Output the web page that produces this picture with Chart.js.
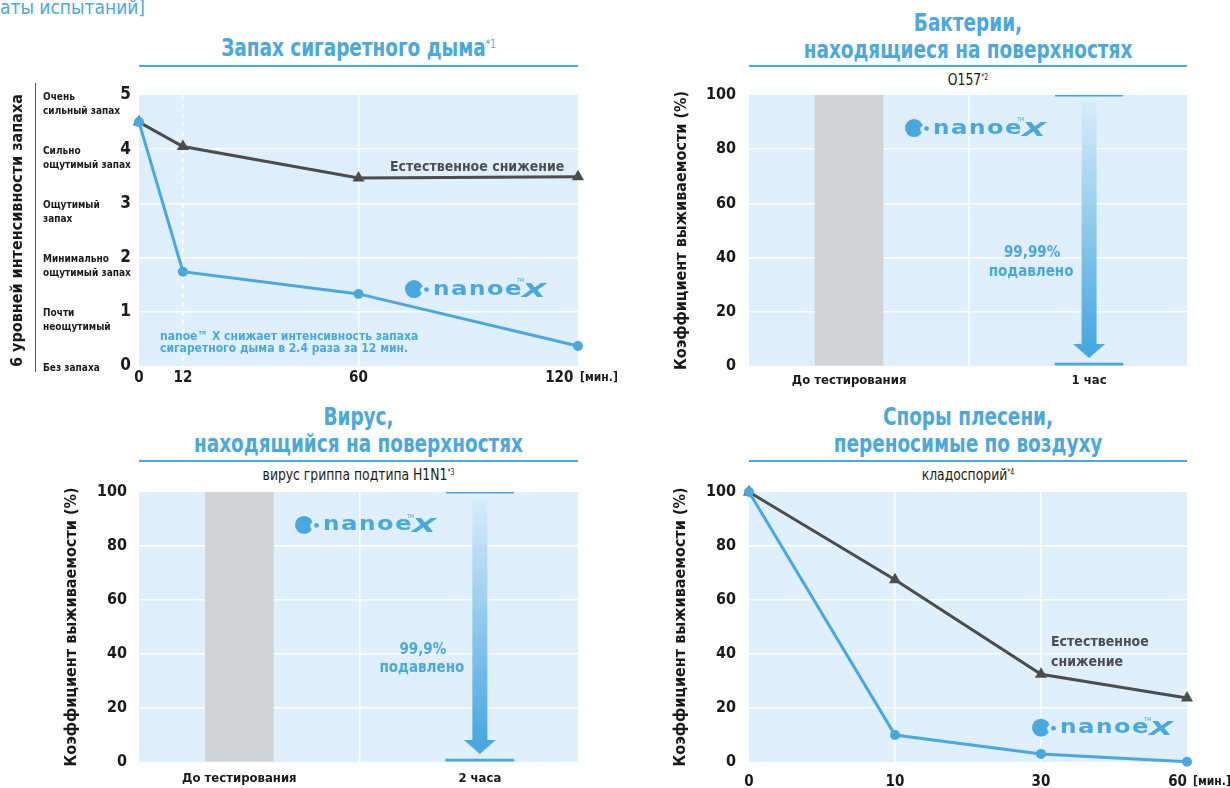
<!DOCTYPE html>
<html><head><meta charset="utf-8">
<script src="https://cdn.jsdelivr.net/npm/chart.js@4.4.1/dist/chart.umd.min.js"></script>
<style>
html,body{margin:0;padding:0;width:1230px;height:788px;overflow:hidden;background:#fff;}
body{position:relative;font-family:'Liberation Sans Narrow','DejaVu Sans Condensed','DejaVu Sans',sans-serif;font-stretch:condensed;}
canvas{position:absolute;}
.t{position:absolute;text-align:center;color:#4aa8e0;font-weight:bold;font-size:25px;line-height:27px;white-space:nowrap;transform:scaleX(0.82);transform-origin:50% 0;}
.t sup{font-size:12px;vertical-align:top;position:relative;top:-3px;font-weight:normal;}
.u{position:absolute;height:2px;background:#4aa8e0;}
.s{position:absolute;text-align:center;color:#1a1a1a;font-size:16px;line-height:16px;white-space:nowrap;transform:scaleX(0.86);transform-origin:50% 0;}
.s sup{font-size:8px;vertical-align:top;position:relative;top:-2px;}
</style></head><body>
<div style="position:absolute;left:0;top:-4px;color:#4aa8e0;font-size:19px;line-height:22px;white-space:nowrap;">аты испытаний]</div>

<div class="t" style="left:139px;top:34px;width:439px;">Запах сигаретного дыма<sup>*1</sup></div>
<div class="u" style="left:139px;top:65px;width:439px;"></div>

<div class="t" style="left:749px;top:9px;width:438px;">Бактерии,<br>находящиеся на поверхностях</div>
<div class="u" style="left:749px;top:65px;width:438px;"></div>
<div class="s" style="left:749px;top:72px;width:438px;">O157<sup>*2</sup></div>

<div class="t" style="left:139px;top:403px;width:439px;">Вирус,<br>находящийся на поверхностях</div>
<div class="u" style="left:139px;top:460px;width:439px;"></div>
<div class="s" style="left:139px;top:467px;width:439px;">вирус гриппа подтипа H1N1<sup>*3</sup></div>

<div class="t" style="left:749px;top:403px;width:438px;">Споры плесени,<br>переносимые по воздуху</div>
<div class="u" style="left:749px;top:460px;width:438px;"></div>
<div class="s" style="left:749px;top:467px;width:438px;">кладоспорий<sup>*4</sup></div>

<canvas id="c1" width="640" height="330" style="left:0;top:70px;"></canvas>
<canvas id="c2" width="590" height="330" style="left:640px;top:70px;"></canvas>
<canvas id="c3" width="640" height="330" style="left:0;top:466px;"></canvas>
<canvas id="c4" width="590" height="330" style="left:640px;top:466px;"></canvas>

<script>
// ---------- data ----------
const smokeMinutes = [0, 12, 60, 120];
const smokeNanoe = [4.5, 1.74, 1.33, 0.37];
const smokeNatural = [4.5, 4.05, 3.47, 3.49];
const smokeLevels = [['Без запаха'], ['Почти', 'неощутимый'], ['Минимально', 'ощутимый запах'], ['Ощутимый', 'запах'], ['Сильно', 'ощутимый запах'], ['Очень', 'сильный запах']];
const bacteriaCategories = ['До тестирования', '1 час'];
const bacteriaSurvival = [100, 0.01];
const virusCategories = ['До тестирования', '2 часа'];
const virusSurvival = [100, 0.1];
const mouldMinutes = ['0', '10', '30', '60'];
const mouldNanoe = [100, 10, 3, 0.1];
const mouldNatural = [100, 67.5, 32.5, 23.7];

// ---------- style ----------
const FONT = "'Liberation Sans Narrow','DejaVu Sans Condensed','DejaVu Sans',sans-serif";
const BG = '#dfeffb', BLUE = '#4aa8e0', GRAY = '#4d4d4d', BAR = '#d1d3d4', INK = '#1a1a1a';

Chart.register({
  id: 'plotBg',
  beforeDraw(c) {
    const a = c.chartArea, ctx = c.ctx;
    ctx.save(); ctx.fillStyle = BG;
    ctx.fillRect(a.left, a.top, a.right - a.left, a.bottom - a.top);
    ctx.restore();
  }
});

function drawLogo(ctx, x, yc) {
  ctx.save();
  ctx.fillStyle = BLUE;
  ctx.beginPath(); ctx.arc(x + 9, yc, 9, 0, Math.PI * 2); ctx.fill();
  ctx.fillStyle = BG;
  ctx.beginPath(); ctx.arc(x + 18.6, yc + 1, 3.4, 0, Math.PI * 2); ctx.fill();
  ctx.fillStyle = BLUE;
  ctx.beginPath(); ctx.arc(x + 21.5, yc + 0.5, 2.4, 0, Math.PI * 2); ctx.fill();
  ctx.textBaseline = 'alphabetic'; ctx.textAlign = 'left';
  ctx.font = "bold 20px 'DejaVu Sans'";
  'nanoe'.split('').forEach((ch, k) => {
    const w = ctx.measureText(ch).width;
    ctx.save(); ctx.translate(x + 28 + k * 18, yc + 5.5); ctx.scale(16.5 / w, 1); ctx.fillText(ch, 0, 0); ctx.restore();
  });
  ctx.font = "italic bold 20px 'DejaVu Sans'";
  const wx = ctx.measureText('X').width;
  ctx.save(); ctx.translate(x + 117, yc + 7.5); ctx.scale(24 / wx, 1); ctx.fillText('X', 0, 0); ctx.restore();
  ctx.font = "5px 'DejaVu Sans'";
  ctx.fillText('TM', x + 112, yc - 7);
  ctx.restore();
}

function txt(ctx, s, x, y, font, color, align) {
  ctx.save(); ctx.font = font; ctx.fillStyle = color; ctx.textAlign = align || 'left'; ctx.textBaseline = 'middle';
  ctx.fillText(s, x, y); ctx.restore();
}

const tickFont = (size) => ({ family: FONT, size: size, weight: 'bold' });
const common = { responsive: false, animation: false, events: [], plugins: { legend: { display: false }, tooltip: { enabled: false } } };

// ---------- chart 1: smoke odour ----------
new Chart(document.getElementById('c1'), {
  type: 'line',
  data: {
    datasets: [
      { label: 'nanoe X', data: smokeMinutes.map((m, i) => ({ x: m, y: smokeNanoe[i] })), borderColor: BLUE, backgroundColor: BLUE, borderWidth: 3, pointRadius: 5, pointStyle: 'circle', pointBorderWidth: 0, clip: false },
      { label: 'Естественное снижение', data: smokeMinutes.map((m, i) => ({ x: m, y: smokeNatural[i] })), borderColor: GRAY, backgroundColor: GRAY, borderWidth: 3, pointRadius: 7, pointStyle: 'triangle', pointBorderWidth: 0, clip: false }
    ]
  },
  options: Object.assign({}, common, {
    layout: { padding: { left: 0, top: 25, right: 62, bottom: 0 } },
    scales: {
      x: {
        type: 'linear', min: 0, max: 120, offset: false,
        afterBuildTicks(s) { s.ticks = smokeMinutes.map(v => ({ value: v })); },
        afterFit(s) { s.height = 34; },
        grid: { drawTicks: false, offset: false, lineWidth: 1.5, color: (c) => (c.tick && (c.tick.value === 12 || c.tick.value === 60)) ? '#ffffff' : 'rgba(0,0,0,0)' },
        border: { display: false, dash: (c) => (c.tick && c.tick.value === 12) ? [5, 4] : [] },
        ticks: { padding: 3, color: INK, font: tickFont(15), autoSkip: false, maxRotation: 0,
          callback: (v, i, t) => i === t.length - 1 ? String(v) + '\u2007\u2007\u2007\u2007' : String(v) }
      },
      y: {
        min: 0, max: 5,
        afterFit(s) { s.width = 139; },
        grid: { drawTicks: false, lineWidth: 1.5, color: (c) => (c.tick && c.tick.value > 0 && c.tick.value < 5) ? '#ffffff' : 'rgba(0,0,0,0)' },
        border: { display: false },
        ticks: { stepSize: 1, padding: 8, color: INK, font: tickFont(17) },
        title: { display: true, text: '6 уровней интенсивности запаха', color: INK, font: tickFont(16), padding: { top: 8.4, bottom: 0 } }
      }
    }
  }),
  plugins: [{
    id: 'smokeAnno',
    beforeDatasetsDraw(c) {
      const a = c.chartArea, y = c.scales.y;
      drawLogo(c.ctx, a.left + 266, y.getPixelForValue(1.42));
    },
    afterDraw(c) {
      const ctx = c.ctx, a = c.chartArea, y = c.scales.y;
      smokeLevels.forEach((lines, v) => {
        const py = y.getPixelForValue(v);
        lines.forEach((ln, k) => txt(ctx, ln, 43, py + 2 + k * 14, 'bold 10px ' + FONT, INK));
      });
      ctx.save(); ctx.strokeStyle = '#555'; ctx.lineWidth = 1;
      ctx.beginPath(); ctx.moveTo(35.5, 13); ctx.lineTo(35.5, 302); ctx.stroke(); ctx.restore();
      txt(ctx, 'Естественное снижение', a.left + 251, y.getPixelForValue(3.67), 'bold 14px ' + FONT, GRAY);
      txt(ctx, 'nanoe™ X снижает интенсивность запаха', a.left + 21, y.getPixelForValue(0.535), 'bold 12px ' + FONT, BLUE);
      txt(ctx, 'сигаретного дыма в 2.4 раза за 12 мин.', a.left + 21, y.getPixelForValue(0.31), 'bold 12px ' + FONT, BLUE);
      txt(ctx, '[мин.]', a.right + 2, a.bottom + 12, 'bold 12px ' + FONT, INK);
    }
  }]
});

// ---------- charts 2 & 3: surfaces ----------
function surfaceChart(id, cats, vals, pct, titlePad, tickPad) {
  new Chart(document.getElementById(id), {
    type: 'bar',
    data: { datasets: [{ data: cats.map((c, i) => ({ x: i, y: vals[i] })), backgroundColor: [BAR, BLUE], barThickness: 68, minBarLength: 3, borderWidth: 0, grouped: false }] },
    options: Object.assign({}, common, {
      layout: { padding: { left: 0, top: id === 'c2' ? 25 : 26, right: id === 'c2' ? 43 : 62, bottom: 0 } },
      scales: {
        x: {
          type: 'linear', min: -0.417, max: 1.408, offset: false,
          afterBuildTicks(s) { s.ticks = [0, 0.5, 1].map(v => ({ value: v })); },
          afterFit(s) { s.height = 34; },
          grid: { drawTicks: false, offset: false, lineWidth: 1.5, color: (c) => (c.tick && c.tick.value === 0.5) ? '#ffffff' : 'rgba(0,0,0,0)' },
          border: { display: false },
          ticks: { padding: tickPad, color: INK, font: tickFont(13), autoSkip: false, maxRotation: 0,
            callback: (v) => v === 0 ? cats[0] : (v === 1 ? cats[1] : '') }
        },
        y: {
          min: 0, max: 100,
          afterFit(s) { s.width = id === 'c2' ? 109 : 139; },
          grid: { drawTicks: false, lineWidth: 1.5, color: (c) => (c.tick && c.tick.value > 0 && c.tick.value < 100) ? '#ffffff' : 'rgba(0,0,0,0)' },
          border: { display: false },
          ticks: { stepSize: 20, padding: id === 'c2' ? 13 : 12, color: INK, font: tickFont(16) },
          title: { display: true, text: 'Коэффициент выживаемости (%)', color: INK, font: tickFont(16), padding: { top: titlePad, bottom: 0 } }
        }
      }
    }),
    plugins: [{
      id: 'arrow',
      beforeDatasetsDraw(c) {
        drawLogo(c.ctx, c.chartArea.left + 156, c.scales.y.getPixelForValue(87.8));
      },
      afterDatasetsDraw(c) {
        const ctx = c.ctx, x = c.scales.x, y = c.scales.y;
        const xc = x.getPixelForValue(1), yTop = y.getPixelForValue(vals[0]), yBot = y.getPixelForValue(0);
        ctx.save();
        ctx.fillStyle = BLUE; ctx.fillRect(xc - 34, yTop, 68, 1.5);
        const s0 = yTop + 7, s1 = yBot - 22;
        const g = ctx.createLinearGradient(0, s0, 0, s1);
        g.addColorStop(0, '#d8ecfa'); g.addColorStop(1, BLUE);
        ctx.fillStyle = g; ctx.fillRect(xc - 7.5, s0, 15, s1 - s0);
        ctx.fillStyle = BLUE; ctx.beginPath();
        ctx.moveTo(xc - 16, s1); ctx.lineTo(xc + 16, s1); ctx.lineTo(xc, yBot - 8); ctx.closePath(); ctx.fill();
        ctx.restore();
        txt(ctx, pct, xc - 57, y.getPixelForValue(41.6), 'bold 15px ' + FONT, BLUE, 'center');
        txt(ctx, 'подавлено', xc - 58, y.getPixelForValue(34.8), 'bold 15px ' + FONT, BLUE, 'center');
      }
    }]
  });
}
surfaceChart('c2', bacteriaCategories, bacteriaSurvival, '99,99%', 32.4, 7);
surfaceChart('c3', virusCategories, virusSurvival, '99,9%', 62.4, 9);

// ---------- chart 4: mould spores ----------
new Chart(document.getElementById('c4'), {
  type: 'line',
  data: {
    labels: mouldMinutes,
    datasets: [
      { label: 'nanoe X', data: mouldNanoe, borderColor: BLUE, backgroundColor: BLUE, borderWidth: 3, pointRadius: 5, pointStyle: 'circle', pointBorderWidth: 0, clip: false },
      { label: 'Естественное снижение', data: mouldNatural, borderColor: GRAY, backgroundColor: GRAY, borderWidth: 3, pointRadius: 7, pointStyle: 'triangle', pointBorderWidth: 0, clip: false }
    ]
  },
  options: Object.assign({}, common, {
    layout: { padding: { left: 0, top: 26, right: 43, bottom: 0 } },
    scales: {
      x: {
        type: 'category', offset: false,
        afterFit(s) { s.height = 34; },
        grid: { drawTicks: false, offset: false, lineWidth: 1.5, color: (c) => (c.index === 1 || c.index === 2) ? '#ffffff' : 'rgba(0,0,0,0)' },
        border: { display: false },
        ticks: { padding: 11, color: INK, font: tickFont(15), autoSkip: false, maxRotation: 0,
          callback: (v, i) => i === mouldMinutes.length - 1 ? mouldMinutes[i] + '\u2007\u2007' : mouldMinutes[i] }
      },
      y: {
        min: 0, max: 100,
        afterFit(s) { s.width = 109; },
        grid: { drawTicks: false, lineWidth: 1.5, color: (c) => (c.tick && c.tick.value > 0 && c.tick.value < 100) ? '#ffffff' : 'rgba(0,0,0,0)' },
        border: { display: false },
        ticks: { stepSize: 20, padding: 13, color: INK, font: tickFont(16) },
        title: { display: true, text: 'Коэффициент выживаемости (%)', color: INK, font: tickFont(16), padding: { top: 31.4, bottom: 0 } }
      }
    }
  }),
  plugins: [{
    id: 'mouldAnno',
    beforeDatasetsDraw(c) {
      drawLogo(c.ctx, c.chartArea.left + 283, c.scales.y.getPixelForValue(12.7));
    },
    afterDraw(c) {
      const ctx = c.ctx, a = c.chartArea, y = c.scales.y;
      txt(ctx, 'Естественное', a.left + 302, y.getPixelForValue(44.2), 'bold 14px ' + FONT, GRAY);
      txt(ctx, 'снижение', a.left + 302, y.getPixelForValue(36.8), 'bold 14px ' + FONT, GRAY);
      txt(ctx, '[мин.]', a.right + 6, a.bottom + 20, 'bold 12px ' + FONT, INK);
    }
  }]
});
</script>
</body></html>
